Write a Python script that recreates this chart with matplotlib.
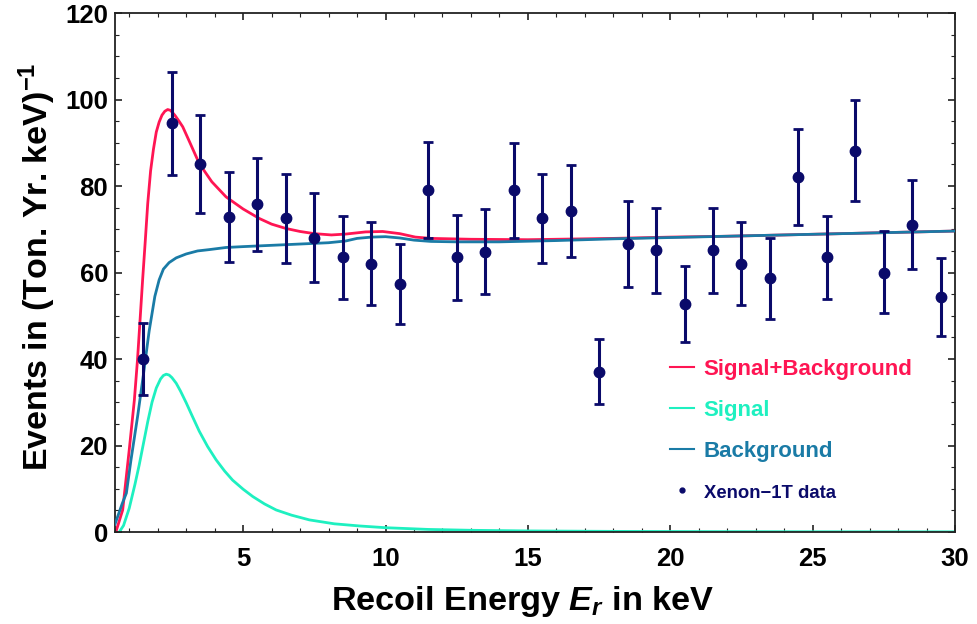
import matplotlib
matplotlib.use("Agg")
import matplotlib.pyplot as plt
from matplotlib.lines import Line2D
from matplotlib.ticker import MultipleLocator

plt.rcParams['font.family'] = ['Liberation Sans', 'DejaVu Sans']
plt.rcParams['font.weight'] = 'bold'
plt.rcParams['mathtext.fontset'] = 'custom'
plt.rcParams['mathtext.rm'] = 'Liberation Sans:bold'
plt.rcParams['mathtext.bf'] = 'Liberation Sans:bold'
plt.rcParams['mathtext.it'] = 'Liberation Sans:bold:italic'
plt.rcParams['mathtext.default'] = 'bf'

# Xenon-1T data
data_x = [1.5, 2.5, 3.5, 4.5, 5.5, 6.5, 7.5, 8.5, 9.5, 10.5, 11.5, 12.5, 13.5, 14.5,
          15.5, 16.5, 17.5, 18.5, 19.5, 20.5, 21.5, 22.5, 23.5, 24.5, 25.5, 26.5,
          27.5, 28.5, 29.5]
data_y = [40.0, 94.5, 85.1, 72.8, 75.8, 72.6, 68.0, 63.5, 62.0, 57.3, 79.1, 63.5, 64.8,
          79.0, 72.6, 74.2, 37.1, 66.5, 65.2, 52.7, 65.2, 62.0, 58.7, 82.2, 63.5, 88.1,
          60.0, 71.1, 54.4]
data_hi = [48.3, 106.4, 96.4, 83.2, 86.4, 82.9, 78.3, 73.1, 71.7, 66.5, 90.2, 73.3, 74.8,
           90.0, 82.9, 84.9, 44.6, 76.5, 75.0, 61.5, 75.0, 71.6, 68.0, 93.3, 73.1, 99.9,
           69.7, 81.5, 63.3]
data_lo = [31.7, 82.5, 73.8, 62.5, 65.0, 62.1, 57.9, 53.9, 52.6, 48.1, 67.9, 53.6, 55.0,
           68.0, 62.1, 63.7, 29.5, 56.6, 55.3, 43.9, 55.3, 52.6, 49.2, 71.1, 53.8, 76.5,
           50.6, 60.8, 45.4]

# Signal curve
sig_x = [0.65, 0.8, 1.0, 1.2, 1.35, 1.5, 1.65, 1.8, 1.95, 2.1, 2.2, 2.3, 2.4, 2.5, 2.65,
         2.8, 3.0, 3.2, 3.46, 3.75, 4.05, 4.35, 4.63, 5.0, 5.34, 5.75, 6.16, 6.7, 7.33,
         8.2, 9.09, 10.0, 11.5, 13.0, 15.0, 18.0, 21.0, 25.0, 30.0]
sig_y = [0.0, 1.5, 5.5, 11.0, 15.5, 20.5, 25.5, 30.0, 33.3, 35.4, 36.2, 36.5, 36.3, 35.7,
         34.4, 32.6, 29.9, 27.0, 23.3, 19.8, 16.7, 14.1, 12.0, 9.9, 8.2, 6.5, 5.1, 3.9,
         2.8, 1.9, 1.4, 1.0, 0.6, 0.4, 0.25, 0.15, 0.1, 0.06, 0.04]

# Background curve
bg_x = [0.5, 0.75, 0.9, 1.06, 1.3, 1.5, 1.7, 1.9, 2.05, 2.2, 2.4, 2.65, 3.0, 3.4, 3.8,
        4.4, 5.0, 6.0, 7.0, 8.0, 8.6, 9.0, 9.5, 10.0, 10.5, 11.0, 11.6, 12.5, 14.0,
        16.0, 18.0, 20.0, 22.0, 24.0, 26.0, 28.0, 30.0]
bg_y = [1.8, 6.5, 9.0, 16.6, 27.0, 36.5, 46.5, 54.5, 58.3, 60.8, 62.3, 63.4, 64.3, 65.0,
        65.3, 65.8, 66.0, 66.3, 66.6, 66.9, 67.3, 67.9, 68.2, 68.3, 68.0, 67.5, 67.2,
        67.1, 67.1, 67.4, 67.8, 68.1, 68.4, 68.7, 69.0, 69.3, 69.6]

# Signal + Background curve
sb_x = [0.53, 0.77, 1.0, 1.18, 1.29, 1.38, 1.47, 1.56, 1.65, 1.75, 1.85, 1.95, 2.05,
        2.15, 2.25, 2.35, 2.45, 2.6, 2.75, 2.88, 3.1, 3.46, 3.9, 4.4, 5.0, 5.57, 6.0,
        6.5, 7.0, 7.5, 8.1, 8.6, 9.3, 9.9, 10.5, 11.05, 11.6, 13.0, 15.0, 18.0, 20.0,
        22.0, 24.0, 26.0, 28.0, 30.0]
sb_y = [0.0, 5.1, 19.0, 30.5, 39.8, 49.0, 58.3, 67.0, 76.0, 83.5, 88.5, 92.5, 94.8,
        96.4, 97.3, 97.7, 97.5, 96.4, 95.0, 93.7, 90.5, 85.2, 81.0, 77.5, 74.7, 72.5,
        71.2, 70.2, 69.5, 69.0, 68.7, 68.9, 69.4, 69.5, 69.0, 68.2, 67.9, 67.7, 67.6,
        67.9, 68.2, 68.4, 68.7, 69.0, 69.3, 69.6]

labels = ["Signal+Background", "Signal", "Background", "Xenon\u22121T data"]
c_sb = "#ff1553"
c_sig = "#1ef0c0"
c_bg = "#1a7ba6"
c_data = "#0a0a6a"

fig = plt.figure(figsize=(9.77, 6.24), dpi=100)
ax = fig.add_axes([0.1177, 0.1474, 0.8598, 0.8316])

ax.plot(sig_x, sig_y, color=c_sig, lw=2.0, zorder=2)
ax.plot(bg_x, bg_y, color=c_bg, lw=2.0, zorder=3)
ax.plot(sb_x, sb_y, color=c_sb, lw=2.0, zorder=2)

yerr = [[y - l for y, l in zip(data_y, data_lo)], [h - y for y, h in zip(data_y, data_hi)]]
ax.errorbar(data_x, data_y, yerr=yerr, fmt='o', color=c_data, ms=7.5, elinewidth=2.2,
            capsize=3.5, capthick=2.0, zorder=5)

ax.set_xlim(0.5, 30)
ax.set_ylim(0, 120)
ax.xaxis.set_major_locator(MultipleLocator(5))
ax.xaxis.set_minor_locator(MultipleLocator(1))
ax.yaxis.set_major_locator(MultipleLocator(20))
ax.yaxis.set_minor_locator(MultipleLocator(5))
ax.tick_params(which='both', direction='in', top=True, right=True, color='#222222')
ax.tick_params(which='major', length=5, width=1.2, labelsize=18.5)
ax.tick_params(axis='x', which='major', pad=11)
ax.tick_params(axis='y', which='major', pad=5)
ax.tick_params(which='minor', length=3, width=0.8)
for lab in ax.get_xticklabels() + ax.get_yticklabels():
    lab.set_fontweight('bold')
for s in ax.spines.values():
    s.set_linewidth(1.3)
    s.set_color('#222222')

ax.set_xlabel(r"Recoil Energy $\mathit{E}_{\mathit{r}}$ in keV", fontsize=24.7, fontweight='bold')
ax.xaxis.set_label_coords(0.485, -0.1)
ax.set_ylabel(r"Events in (Ton. Yr. keV)$^{-1}$", fontsize=24.5, fontweight='bold')
ax.yaxis.set_label_coords(-0.068, 0.512)

handles = [Line2D([], [], color=c_sb, lw=1.5),
           Line2D([], [], color=c_sig, lw=1.5),
           Line2D([], [], color=c_bg, lw=1.5),
           Line2D([], [], color=c_data, marker='o', ms=3.5, lw=0)]
leg = ax.legend(handles, labels, loc='upper left', bbox_to_anchor=(0.661, 0.333),
                frameon=False, handlelength=1.05, handletextpad=0.45, labelspacing=0.9,
                borderpad=0, borderaxespad=0,
                prop={'size': 16, 'weight': 'bold'},
                labelcolor=[c_sb, c_sig, c_bg, c_data])
leg.get_texts()[3].set_fontsize(13.3)

fig.savefig("out.png", dpi=100)
